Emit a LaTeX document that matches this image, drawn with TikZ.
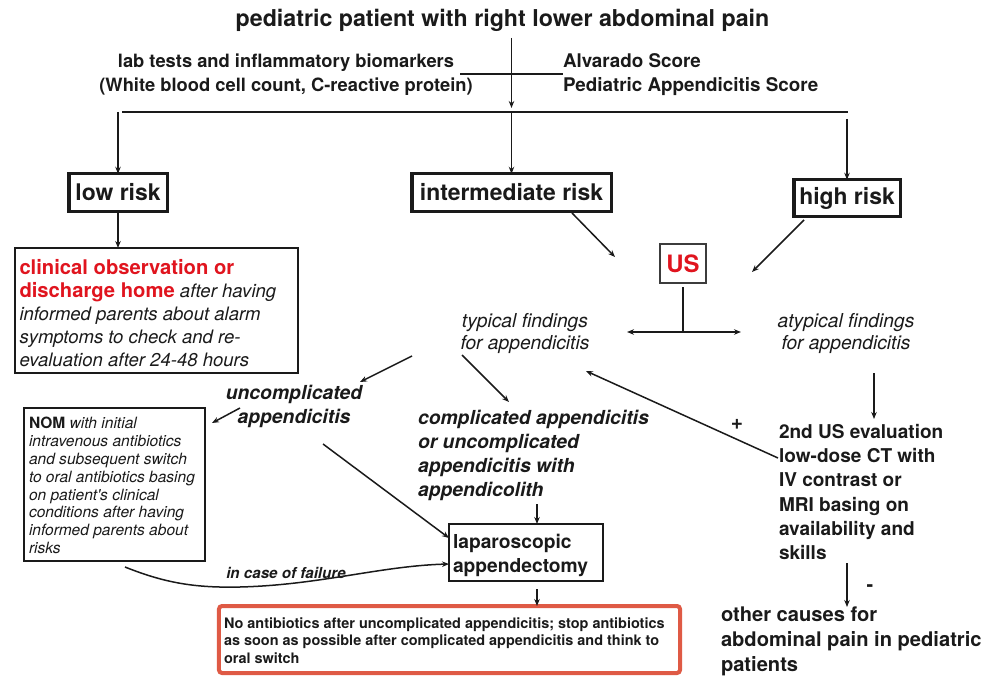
\documentclass[tikz,border=0pt]{standalone}
\usepackage{fontspec}
\setmainfont{TeX Gyre Heros}
\usetikzlibrary{arrows.meta}
\definecolor{ink}{HTML}{1A1A1A}
\definecolor{usred}{HTML}{E0141E}
\definecolor{boxred}{HTML}{DF5A45}
\newcommand{\fsz}[2]{\fontsize{#1}{#2}\selectfont}
\begin{document}
\begin{tikzpicture}[x=1bp,y=-1bp,
  every node/.style={inner sep=0pt, outer sep=0pt, text=ink},
  >={Stealth[length=7bp,width=5.5bp]},
  link/.style={draw=ink, line width=1.5bp},
  conn/.style={link, ->},
  riskbox/.style={draw=ink, line width=3.5bp, font=\fsz{23}{28}\bfseries},
  thinbox/.style={draw=ink, line width=2bp},
  lefttext/.style={anchor=west, align=left}]
\useasboundingbox (0,0) rectangle (998,686);

% ---- top
\node[font=\fsz{23.3}{28}\bfseries] (title) at (502.5,20) {pediatric patient with right lower abdominal pain};
\node[font=\fsz{18.4}{24}\bfseries, align=center] (lab) at (286,75) {lab tests and inflammatory biomarkers\\(White blood cell count, C-reactive protein)};
\node[font=\fsz{18.9}{24}\bfseries, lefttext] (score) at (563,75) {Alvarado Score\\Pediatric Appendicitis Score};

% ---- risk boxes
\node[riskbox, minimum width=98.5bp, minimum height=37.5bp] (low) at (118,192.5) {low risk};
\node[riskbox, minimum width=199.5bp, minimum height=37.5bp] (int) at (511.5,192.5) {intermediate risk};
\node[riskbox, minimum width=106.5bp, minimum height=36.5bp] (high) at (847,198) {high risk};

% ---- clinical observation
\node[thinbox, minimum width=283bp, minimum height=125bp] (clin) at (156.5,310.5) {};
\node[lefttext, font=\fsz{18.6}{23}\itshape] (clintext) at (19.5,313)
 {{\color{usred}\fsz{20.3}{23}\bfseries\upshape clinical observation or}\\
  {\color{usred}\fsz{20.3}{23}\bfseries\upshape discharge home} after having\\
  informed parents about alarm\\
  symptoms to check and re-\\
  evaluation after 24-48 hours};

% ---- US
\node[draw=ink!85, line width=2bp, minimum width=46bp, minimum height=39bp] (us) at (683,263.5) {};
\node[font=\fsz{24}{28}\bfseries, text=usred] (ustext) at (683,264) {US};

\node[font=\fsz{19.3}{23}\itshape, align=center] (typ) at (525,333.5) {typical findings\\for appendicitis};
\node[font=\fsz{19.3}{23}\itshape, align=center] (atyp) at (846,333.5) {atypical findings\\for appendicitis};

% ---- left branch
\node[font=\fsz{19.4}{23.5}\bfseries\itshape, align=center] (uncomp) at (294,406.5) {uncomplicated\\appendicitis};
\node[thinbox, minimum width=181bp, minimum height=153bp] (nom) at (114.5,484.5) {};
\node[lefttext, font=\fsz{15.6}{17.85}\itshape] (nomtext) at (29,485.5)
 {{\bfseries\upshape NOM} with initial\\
  intravenous antibiotics\\
  and subsequent switch\\
  to oral antibiotics basing\\
  on patient\textquotesingle s clinical\\
  conditions after having\\
  informed parents about\\
  risks};

\node[lefttext, font=\fsz{19.4}{24.3}\bfseries\itshape] (comp) at (418,455.5)
 {complicated appendicitis\\or uncomplicated\\appendicitis with\\appendicolith};

\node[thinbox, minimum width=154bp, minimum height=57bp] (lap) at (526,552.5) {};
\node[lefttext, font=\fsz{19.3}{24}\bfseries] (laptext) at (453,555) {laparoscopic\\appendectomy};

\node[font=\fsz{15.2}{18}\bfseries\itshape] (fail) at (286,573) {in case of failure};

\node[draw=boxred, line width=4bp, rounded corners=3bp, minimum width=461bp, minimum height=67bp] (abx) at (449.5,639.5) {};
\node[lefttext, font=\fsz{14.5}{17.5}\bfseries] (abxtext) at (224,640.5)
 {No antibiotics after uncomplicated appendicitis; stop antibiotics\\
  as soon as possible after complicated appendicitis and think to\\
  oral switch};

% ---- right branch
\node[lefttext, font=\fsz{19.1}{24.4}\bfseries] (second) at (779,492)
 {2nd US evaluation\\low-dose CT with\\IV contrast or\\MRI basing on\\availability and\\skills};
\node[font=\fsz{21}{24}\bfseries] (plus) at (737,424) {+};
\node[font=\fsz{20}{22}\bfseries] (minus) at (870,588) {-};
\node[lefttext, font=\fsz{20.2}{25}\bfseries] (other) at (721,641)
 {other causes for\\abdominal pain in pediatric\\patients};

% ---- coordinates
\coordinate (a0) at (511.5,38);
\coordinate (a1) at (511.5,108);
\coordinate (lh0) at (460,74);
\coordinate (lh1) at (563,74);
\coordinate (h0) at (122,112);
\coordinate (h1) at (848,112);
\coordinate (vl) at (118,112);
\coordinate (vm) at (511.5,112);
\coordinate (vr) at (847,119);
\coordinate (i0) at (572,213);
\coordinate (i1) at (615,257);
\coordinate (r0) at (804,220);
\coordinate (r1) at (752,272);
\coordinate (u0) at (683,287);
\coordinate (u1) at (683,332);
\coordinate (d0) at (627,332);
\coordinate (d1) at (741,332);
\coordinate (t0) at (412,356);
\coordinate (t1) at (360,382);
\coordinate (t2) at (462,355);
\coordinate (t3) at (509,402);
\coordinate (n0) at (240,408);
\coordinate (n1) at (212,423);
\coordinate (l0) at (323,444);
\coordinate (l1) at (449,538);
\coordinate (c0) at (537,504);
\coordinate (c1) at (537,524);
\coordinate (f0) at (125,567);
\coordinate (f1) at (449,564);
\coordinate (p0) at (537,589);
\coordinate (p1) at (537,606);
\coordinate (s0) at (874,373);
\coordinate (s1) at (874,419);
\coordinate (b0) at (778,458);
\coordinate (b1) at (586,371);
\coordinate (o0) at (847,563);
\coordinate (o1) at (847,607);

% ---- connectors
\draw[conn] (a0) -- (a1);
\draw[link] (lh0) -- (lh1);
\draw[link] (h0) -- (h1);
\draw[conn] (vl) -- (low.north);
\draw[conn] (vm) -- (int.north);
\draw[conn] (vr) -- (high.north);
\draw[conn] (low.south) -- (low.south |- clin.north);
\draw[conn] (i0) -- (i1);
\draw[conn] (r0) -- (r1);
\draw[link] (u0) -- (u1);
\draw[link, <->] (d0) -- (d1);
\draw[conn] (t0) -- (t1);
\draw[conn] (t2) -- (t3);
\draw[conn] (n0) -- (n1);
\draw[conn] (l0) -- (l1);
\draw[conn] (c0) -- (c1);
\draw[conn] (f0) .. controls (165,583) and (195,588) .. (240,587) .. controls (320,585) and (380,566) .. (f1);
\draw[conn] (p0) -- (p1);
\draw[conn] (s0) -- (s1);
\draw[conn] (b0) -- (b1);
\draw[conn] (o0) -- (o1);
\end{tikzpicture}
\end{document}
